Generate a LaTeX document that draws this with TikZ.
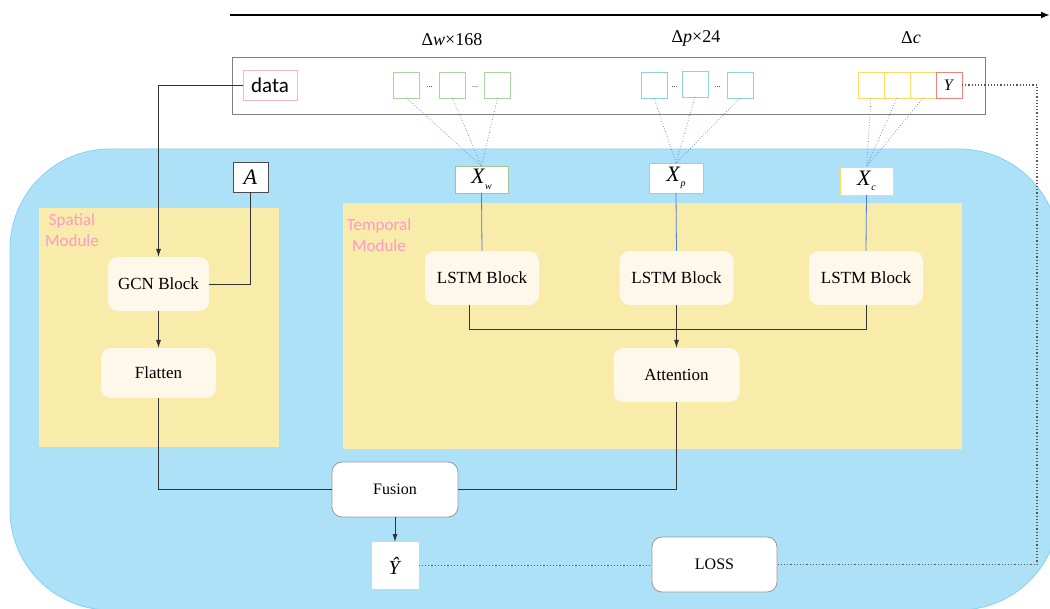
\documentclass[tikz,border=0pt]{standalone}
\usepackage{fontspec}
\setmainfont{Liberation Serif}
\newfontfamily\calib{Carlito}
\usetikzlibrary{arrows.meta,calc}
\definecolor{bgblue}{HTML}{ADE1F8}
\definecolor{bgblueline}{HTML}{86D0F0}
\definecolor{modyellow}{HTML}{F9EBA9}
\definecolor{cream}{HTML}{FDF8EA}
\definecolor{pinktxt}{HTML}{FF99CC}
\definecolor{greenb}{HTML}{A9D5A0}
\definecolor{cyanb}{HTML}{8DD3E0}
\definecolor{yellb}{HTML}{FFD966}
\definecolor{redb}{HTML}{F08080}
\definecolor{linkblue}{HTML}{4F7FD0}
\definecolor{datapink}{HTML}{F4B6C2}
\tikzset{
  every node/.style={inner sep=0pt, outer sep=0pt},
  blockbox/.style={fill=cream, rounded corners=10pt, font=\fontsize{17}{17}\selectfont},
  whitebox/.style={fill=white, draw=gray!80, rounded corners=10pt, line width=0.8pt, font=\fontsize{16}{16}\selectfont},
  seqbox/.style={draw, fill=white, minimum width=26pt, minimum height=26pt, line width=0.8pt},
  xbox/.style={draw, fill=white, line width=0.8pt, font=\fontsize{22}{22}\selectfont},
  conn/.style={line width=0.8pt, black!80},
  arr/.style={conn, -{Latex[length=8pt,width=5pt]}},
  feed/.style={linkblue, line width=0.7pt, dotted},
  bluelink/.style={linkblue, line width=0.8pt},
  lossline/.style={black!65, line width=1.2pt, dotted},
  pinklabel/.style={text=pinktxt, align=center, font=\calib\fontsize{17}{21}\selectfont},
  toplabel/.style={font=\fontsize{18}{18}\selectfont}
}
\newcommand{\xsub}[2]{\textit{#1}\raisebox{-0.55ex}{\fontsize{10}{10}\selectfont\textit{#2}}}
\begin{document}
\begin{tikzpicture}[x=1pt,y=-1pt]
\useasboundingbox (0,0) rectangle (1050,609);
\clip (0,0) rectangle (1050,609);
% background region
\draw[fill=bgblue, draw=bgblueline, line width=0.8pt, rounded corners=100pt] (10,149) rectangle (1059,610);
% module areas
\fill[modyellow] (39,208) rectangle (279,447);
\fill[modyellow] (343,203) rectangle (962,449);
\node[pinklabel] (spl) at (72,230) {Spatial\\Module};
\node[pinklabel] (tpl) at (379,235) {Temporal\\Module};
% top time arrow
\coordinate (t0) at (230,15);
\coordinate (t1) at (1050,15);
\draw[line width=1.8pt, -{Latex[length=9pt,width=7pt]}] (t0) -- (t1);
% top labels
\node[toplabel] (lw) at (452,40) {Δ\textit{w}×168};
\node[toplabel] (lp) at (696,38) {Δ\textit{p}×24};
\node[toplabel] (lc) at (911,38) {Δ\textit{c}};
% data strip
\draw[gray, line width=0.9pt] (232,57) rectangle (985,114);
\node[draw=datapink, line width=0.8pt, fill=white, minimum width=54pt, minimum height=30pt, font=\calib\fontsize{21}{21}\selectfont] (data) at (270,85) {data};
\node[seqbox, draw=greenb] (g1) at (406.5,85) {};
\node[seqbox, draw=greenb] (g2) at (452.5,85) {};
\node[seqbox, draw=greenb] (g3) at (497.5,85) {};
\node[font=\fontsize{8}{8}\selectfont] (gd1) at (429.5,87) {...};
\node[font=\fontsize{8}{8}\selectfont] (gd2) at (475,87) {...};
\node[seqbox, draw=cyanb] (c1) at (654,85) {};
\node[seqbox, draw=cyanb] (c2) at (695,84) {};
\node[seqbox, draw=cyanb] (c3) at (740,85) {};
\node[font=\fontsize{8}{8}\selectfont] (cd1) at (674.5,87) {...};
\node[font=\fontsize{8}{8}\selectfont] (cd2) at (717.5,87) {...};
\node[seqbox, draw=yellb] (y1) at (871,85) {};
\node[seqbox, draw=yellb] (y2) at (897,85) {};
\node[seqbox, draw=yellb] (y3) at (923,85) {};
\node[seqbox, draw=redb, font=\fontsize{16}{16}\selectfont] (Y) at (949,85) {\textit{Y}};
% X inputs
\node[xbox, draw=greenb!80!gray, minimum width=53pt, minimum height=27pt] (xw) at (481.5,179.5) {\xsub{X}{w}};
\node[xbox, draw=cyanb, minimum width=54pt, minimum height=30pt] (xp) at (676,178) {\xsub{X}{p}};
\node[xbox, draw=yellb, minimum width=53pt, minimum height=28pt] (xc) at (866.5,181) {\xsub{X}{c}};
\node[xbox, draw=black!70, minimum width=35pt, minimum height=30pt] (A) at (250.5,177) {\textit{A}};
% blocks
\node[blockbox, minimum width=101pt, minimum height=54pt] (gcn) at (158.5,284) {GCN Block};
\node[blockbox, minimum width=115pt, minimum height=50pt] (flat) at (158.5,373) {Flatten};
\node[blockbox, minimum width=114pt, minimum height=54pt] (l1) at (482,278) {LSTM Block};
\node[blockbox, minimum width=114pt, minimum height=54pt] (l2) at (676.5,278) {LSTM Block};
\node[blockbox, minimum width=114pt, minimum height=54pt] (l3) at (866,278) {LSTM Block};
\node[blockbox, minimum width=126pt, minimum height=54pt] (att) at (676.5,375) {Attention};
\node[whitebox, minimum width=126pt, minimum height=55pt] (fus) at (395,489.5) {Fusion};
\node[fill=white, minimum width=47pt, minimum height=47pt, font=\fontsize{20}{20}\selectfont] (yhat) at (395,565.5) {\textit{Ŷ}};
\node[whitebox, minimum width=125pt, minimum height=55pt] (loss) at (714.5,564.5) {LOSS};
% feed lines
\foreach \s in {g1,g2,g3} \draw[feed] (\s.south) -- (xw.north);
\foreach \s in {c1,c2,c3} \draw[feed] (\s.south) -- (xp.north);
\foreach \s in {y1,y2,y3} \draw[feed] (\s.south) -- (xc.north);
\draw[bluelink] (xw.south) -- (l1.north);
\draw[bluelink] (xp.south) -- (l2.north);
\draw[bluelink] (xc.south) -- (l3.north);
% spatial path
\draw[arr] (data.west) -| (gcn.north);
\draw[conn] (A.south) |- (gcn.east);
\draw[arr] (gcn.south) -- (flat.north);
\draw[conn] (flat.south) |- (fus.west);
% temporal path
\coordinate (j) at (676.5,329);
\draw[conn] ([xshift=-13pt]l1.south) |- (j);
\draw[conn] (l3.south) |- (j);
\draw[arr] (l2.south) -- (att.north);
\draw[conn] (att.south) |- (fus.east);
\draw[arr] (fus.south) -- (yhat.north);
% loss
\coordinate (lr) at (1037,85);
\draw[lossline] (Y.east) -- (lr) |- (loss.east);
\draw[lossline] (yhat.east) -- (yhat.east -| loss.west);
\end{tikzpicture}
\end{document}
